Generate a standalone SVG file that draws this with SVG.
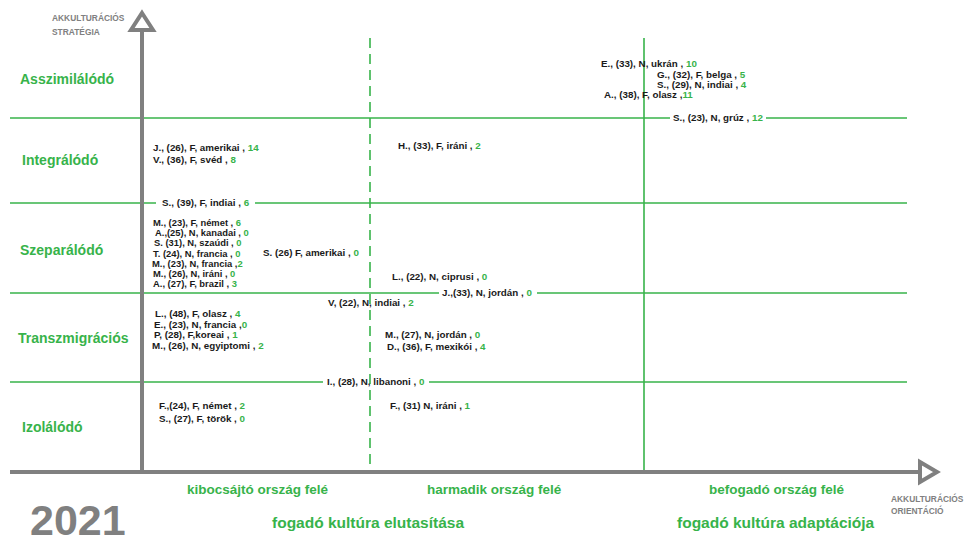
<svg xmlns="http://www.w3.org/2000/svg" width="967" height="540" viewBox="0 0 967 540">
<style>
.g{fill:#37b34a}
.lbl{font-family:"Liberation Sans",Arial,sans-serif;font-weight:bold;font-size:14px;fill:#37b34a}
.e{font-family:"Liberation Sans",Arial,sans-serif;font-weight:bold;font-size:9.8px;fill:#1a1a1a}
.s{font-size:9.4px}
.ax{font-family:"Liberation Sans",Arial,sans-serif;font-weight:bold;font-size:8.4px;fill:#808080}
.bt{font-family:"Liberation Sans",Arial,sans-serif;font-weight:bold;font-size:13.5px;fill:#37b34a}
.bb{font-family:"Liberation Sans",Arial,sans-serif;font-weight:bold;font-size:15.5px;fill:#37b34a}
.gl{stroke:#37b34a;stroke-width:1.6;fill:none}
.axis{stroke:#808080;stroke-width:4;fill:none}
</style>
<rect width="967" height="540" fill="#ffffff"/>
<g id="connectors">
<line class="gl" x1="10" y1="118" x2="670" y2="118"/>
<line class="gl" x1="766" y1="118" x2="907" y2="118"/>
<line class="gl" x1="10" y1="203" x2="156" y2="203"/>
<line class="gl" x1="255" y1="203" x2="907" y2="203"/>
<line class="gl" x1="10" y1="293" x2="439" y2="293"/>
<line class="gl" x1="537" y1="293" x2="907" y2="293"/>
<line class="gl" x1="10" y1="382" x2="323" y2="382"/>
<line class="gl" x1="429" y1="382" x2="907" y2="382"/>
<line class="gl" x1="370" y1="38" x2="370" y2="470" stroke-dasharray="10 6"/>
<line class="gl" x1="644" y1="38" x2="644" y2="470"/>
<line class="axis" x1="142" y1="30" x2="142" y2="472"/>
<polygon class="axis" points="142,13 153,30 131,30" fill="#ffffff"/>
<line class="axis" x1="10" y1="472" x2="920" y2="472"/>
<polygon class="axis" points="937,472 920,462 920,482" fill="#ffffff"/>
</g>
<g id="axis-labels">
<text class="ax" x="52" y="21">AKKULTURÁCIÓS</text>
<text class="ax" x="52" y="35">STRATÉGIA</text>
<text class="ax" x="891" y="502">AKKULTURÁCIÓS</text>
<text class="ax" x="891" y="514">ORIENTÁCIÓ</text>
</g>
<g id="row-labels">
<text class="lbl" x="20" y="84">Asszimilálódó</text>
<text class="lbl" x="22" y="165">Integrálódó</text>
<text class="lbl" x="20" y="255">Szeparálódó</text>
<text class="lbl" x="18" y="343">Transzmigrációs</text>
<text class="lbl" x="22" y="432">Izolálódó</text>
</g>
<g id="asszimilalodo">
<text class="e" x="601" y="67">E., (33), N, ukrán , <tspan class="g">10</tspan></text>
<text class="e" x="657" y="78">G., (32), F, belga , <tspan class="g">5</tspan></text>
<text class="e" x="657" y="88">S., (29), N, indiai , <tspan class="g">4</tspan></text>
<text class="e" x="604" y="98">A., (38), F, olasz ,<tspan class="g">11</tspan></text>
<text class="e" x="673" y="121">S., (23), N, grúz , <tspan class="g">12</tspan></text>
</g>
<g id="integralodo">
<text class="e" x="153" y="151">J., (26), F, amerikai , <tspan class="g">14</tspan></text>
<text class="e" x="153" y="163">V., (36), F, svéd , <tspan class="g">8</tspan></text>
<text class="e" x="398" y="149">H., (33), F, iráni , <tspan class="g">2</tspan></text>
<text class="e" x="162" y="206">S., (39), F, indiai , <tspan class="g">6</tspan></text>
</g>
<g id="szeparalodo">
<text class="e s" x="153" y="226">M., (23), F, német , <tspan class="g">6</tspan></text>
<text class="e s" x="155" y="236.2">A.,(25), N, kanadai , <tspan class="g">0</tspan></text>
<text class="e s" x="154" y="246.4">S. (31), N, szaúdi , <tspan class="g">0</tspan></text>
<text class="e s" x="153" y="256.6">T. (24), N, francia , <tspan class="g">0</tspan></text>
<text class="e s" x="152" y="266.8">M., (23), N, francia ,<tspan class="g">2</tspan></text>
<text class="e s" x="153" y="277">M., (26), N, iráni , <tspan class="g">0</tspan></text>
<text class="e s" x="153" y="287.2">A., (27), F, brazil , <tspan class="g">3</tspan></text>
<text class="e" x="263" y="256">S. (26) F, amerikai , <tspan class="g">0</tspan></text>
<text class="e" x="392" y="280">L., (22), N, ciprusi , <tspan class="g">0</tspan></text>
<text class="e" x="442" y="296">J.,(33), N, jordán , <tspan class="g">0</tspan></text>
</g>
<g id="transzmigracios">
<text class="e" x="328" y="306">V, (22), N, indiai , <tspan class="g">2</tspan></text>
<text class="e" x="155" y="317">L., (48), F, olasz , <tspan class="g">4</tspan></text>
<text class="e" x="154" y="327.5">E., (23), N, francia ,<tspan class="g">0</tspan></text>
<text class="e" x="154" y="338">P, (28), F,koreai , <tspan class="g">1</tspan></text>
<text class="e" x="152" y="349">M., (26), N, egyiptomi , <tspan class="g">2</tspan></text>
<text class="e" x="385" y="338">M., (27), N, jordán , <tspan class="g">0</tspan></text>
<text class="e" x="387" y="350">D., (36), F, mexikói , <tspan class="g">4</tspan></text>
</g>
<g id="izolalodo">
<text class="e" x="327" y="385">I., (28), N, libanoni , <tspan class="g">0</tspan></text>
<text class="e" x="159" y="409">F.,(24), F, német , <tspan class="g">2</tspan></text>
<text class="e" x="159" y="422">S., (27), F, török , <tspan class="g">0</tspan></text>
<text class="e" x="390" y="409">F., (31) N, iráni , <tspan class="g">1</tspan></text>
</g>
<g id="bottom-labels">
<text class="bt" x="187" y="494">kibocsájtó ország felé</text>
<text class="bt" x="427" y="494">harmadik ország felé</text>
<text class="bt" x="709" y="494">befogadó ország felé</text>
<text class="bb" x="272" y="528">fogadó kultúra elutasítása</text>
<text class="bb" x="677" y="528">fogadó kultúra adaptációja</text>
<text x="30" y="535" font-family="Liberation Sans,Arial,sans-serif" font-weight="bold" font-size="43" fill="#808080">2021</text>
</g>
</svg>
